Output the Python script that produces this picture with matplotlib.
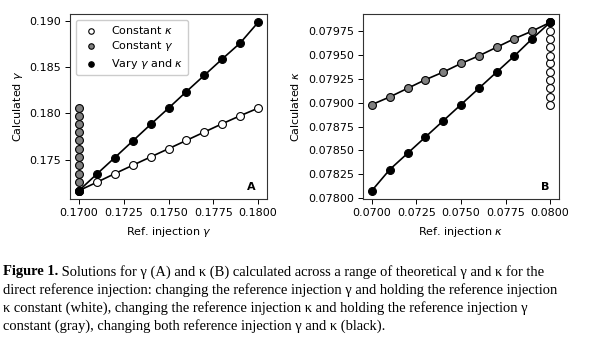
import matplotlib
matplotlib.use("Agg")
import matplotlib.pyplot as plt
import numpy as np

# Panel A data
ref_gamma = [0.170, 0.171, 0.172, 0.173, 0.174, 0.175, 0.176, 0.177, 0.178, 0.179, 0.180]
a_const_kappa = [0.17166, 0.17256, 0.17349, 0.17439, 0.17529, 0.17618, 0.17708, 0.17798, 0.17888, 0.17974, 0.18056]
a_const_gamma = [0.17166, 0.17256, 0.17349, 0.17439, 0.17529, 0.17618, 0.17708, 0.17798, 0.17888, 0.17974, 0.18056]
a_vary = [0.17166, 0.17345, 0.17522, 0.17701, 0.17880, 0.18056, 0.18235, 0.18411, 0.18587, 0.18759, 0.18982]

# Panel B data
ref_kappa = [0.070, 0.071, 0.072, 0.073, 0.074, 0.075, 0.076, 0.077, 0.078, 0.079, 0.080]
b_const_gamma = [0.07898, 0.07906, 0.07915, 0.07924, 0.07932, 0.07941, 0.07949, 0.07958, 0.07967, 0.07975, 0.07984]
b_const_kappa = [0.07898, 0.07906, 0.07915, 0.07924, 0.07932, 0.07941, 0.07949, 0.07958, 0.07967, 0.07975, 0.07984]
b_vary = [0.07808, 0.07830, 0.07847, 0.07864, 0.07881, 0.07898, 0.07915, 0.07932, 0.07949, 0.07967, 0.07984]

caption_bold = "Figure 1."
caption_lines = [
    " Solutions for \u03b3 (A) and \u03ba (B) calculated across a range of theoretical \u03b3 and \u03ba for the",
    "direct reference injection: changing the reference injection \u03b3 and holding the reference injection",
    "\u03ba constant (white), changing the reference injection \u03ba and holding the reference injection \u03b3",
    "constant (gray), changing both reference injection \u03b3 and \u03ba (black).",
]

W, H = 591, 340
fig = plt.figure(figsize=(W / 100, H / 100), dpi=100)

fs = 8
ms = 32
mk = dict(s=ms, edgecolors="black", linewidths=0.8, zorder=3)

axA = fig.add_axes([70 / W, 1 - 199 / H, 197 / W, 185 / H])
axA.plot(ref_gamma, a_const_kappa, color="black", lw=1.2, zorder=2)
axA.plot(ref_gamma, a_vary, color="black", lw=1.2, zorder=2)
axA.scatter(ref_gamma, a_const_kappa, color="white", label=r"Constant $\kappa$", **mk)
axA.scatter([ref_gamma[0]] * len(a_const_gamma), a_const_gamma, color="gray", label=r"Constant $\gamma$", **mk)
axA.scatter(ref_gamma, a_vary, color="black", label=r"Vary $\gamma$ and $\kappa$", **mk)
axA.set_xticks([0.170, 0.1725, 0.175, 0.1775, 0.180])
axA.set_xticklabels(["0.1700", "0.1725", "0.1750", "0.1775", "0.1800"])
axA.set_yticks([0.175, 0.180, 0.185, 0.190])
axA.set_yticklabels(["0.175", "0.180", "0.185", "0.190"])
axA.set_xlabel(r"Ref. injection $\gamma$", fontsize=fs, labelpad=5)
axA.set_ylabel(r"Calculated $\gamma$", fontsize=fs, labelpad=3)
axA.tick_params(labelsize=fs, length=3.5, width=0.7, pad=3)
axA.legend(loc="upper left", fontsize=fs, markerscale=0.7, borderpad=0.4, labelspacing=0.3,
           handletextpad=0.8, handlelength=2.0,
           framealpha=1, edgecolor="#cccccc")
axA.text(0.944, 0.05, "A", transform=axA.transAxes, fontsize=fs, fontweight="bold", ha="right", va="baseline")

axB = fig.add_axes([363 / W, 1 - 199 / H, 196 / W, 185 / H])
axB.plot(ref_kappa, b_const_gamma, color="black", lw=1.2, zorder=2)
axB.plot(ref_kappa, b_vary, color="black", lw=1.2, zorder=2)
axB.scatter([ref_kappa[-1]] * len(b_const_kappa), b_const_kappa, color="white", **mk)
axB.scatter(ref_kappa, b_const_gamma, color="gray", **mk)
axB.scatter(ref_kappa, b_vary, color="black", **mk)
axB.set_xticks([0.070, 0.0725, 0.075, 0.0775, 0.080])
axB.set_xticklabels(["0.0700", "0.0725", "0.0750", "0.0775", "0.0800"])
yt = [0.078, 0.07825, 0.0785, 0.07875, 0.079, 0.07925, 0.0795, 0.07975]
axB.set_yticks(yt)
axB.set_yticklabels(["%.5f" % v for v in yt])
axB.set_xlabel(r"Ref. injection $\kappa$", fontsize=fs, labelpad=5)
axB.set_ylabel(r"Calculated $\kappa$", fontsize=fs, labelpad=5)
axB.tick_params(labelsize=fs, length=3.5, width=0.7, pad=3)
axB.text(0.95, 0.05, "B", transform=axB.transAxes, fontsize=fs, fontweight="bold", ha="right", va="baseline")

for ax in (axA, axB):
    for sp in ax.spines.values():
        sp.set_linewidth(0.8)
        sp.set_color("#333333")

# caption
cfs = 10.45
y0 = 1 - 272 / H
t = fig.text(3 / W, y0, caption_bold, fontsize=cfs, family="Liberation Serif", fontweight="bold", va="center")
fig.canvas.draw()
bb = t.get_window_extent()
fig.text(bb.x1 / W, y0, caption_lines[0], fontsize=cfs, family="Liberation Serif", va="center")
for i, line in enumerate(caption_lines[1:], start=1):
    fig.text(3 / W, y0 - i * 18 / H, line, fontsize=cfs, family="Liberation Serif", va="center")

fig.savefig("out.png", dpi=100)
